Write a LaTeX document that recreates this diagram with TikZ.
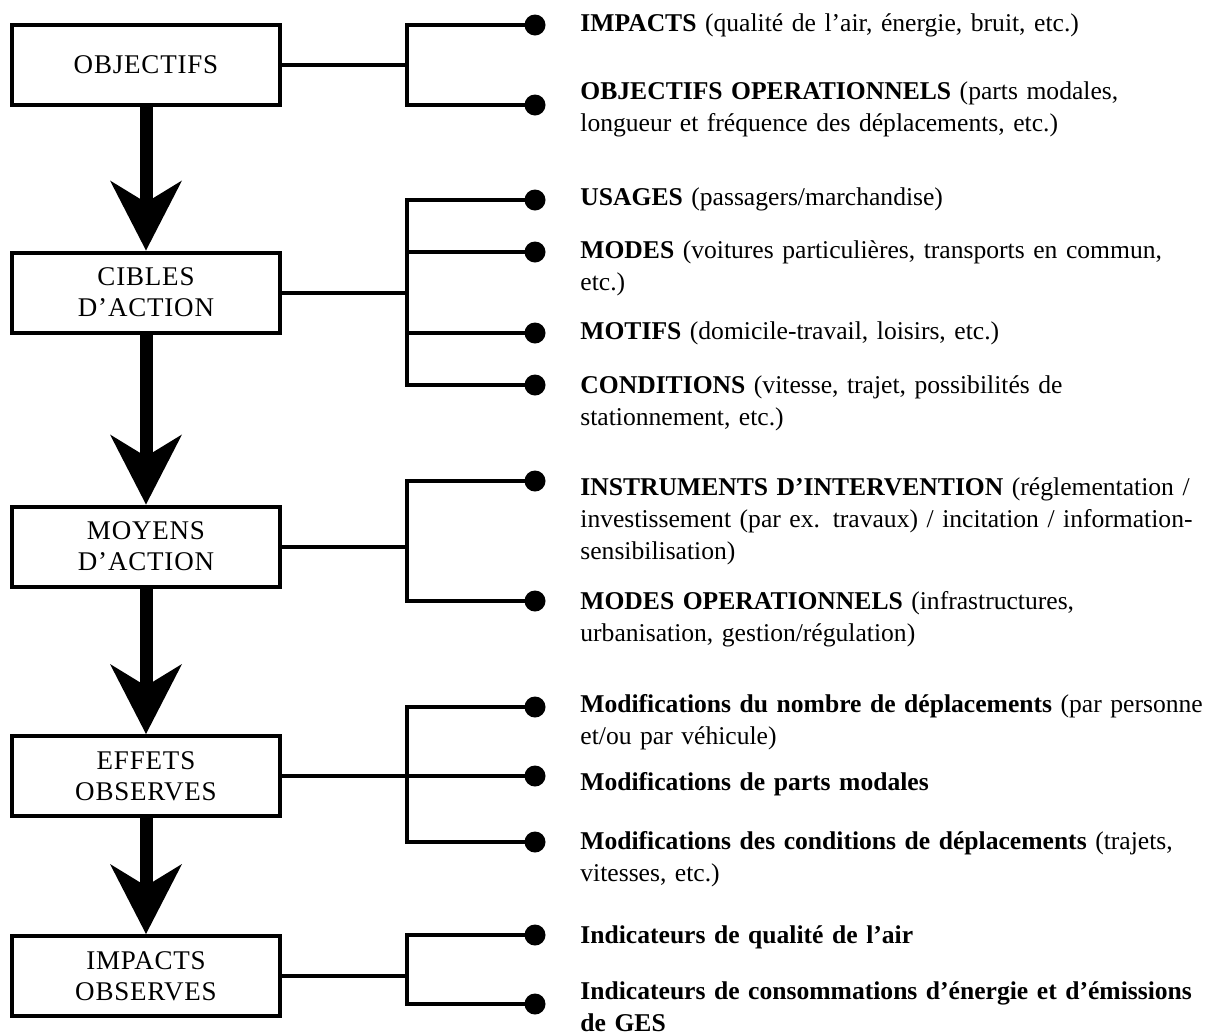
\documentclass[tikz,border=0pt]{standalone}
\usepackage{fontspec}
\setmainfont{Liberation Serif}
\usetikzlibrary{arrows.meta,positioning}

\begin{document}
\begin{tikzpicture}[
        x=0.5pt, y=-0.5pt,
        font=\fontsize{12.8pt}{16pt}\selectfont,
        stage/.style={draw=black, line width=2pt, fill=white, align=center, minimum width=134pt, minimum height=40pt, inner sep=2pt, font=\fontsize{13.5pt}{15.5pt}\selectfont\addfontfeature{LetterSpace=3}},
        dot/.style={circle, fill=black, minimum size=10.5pt, inner sep=0pt},
        item/.style={anchor=base west, text width=330pt, align=left, inner sep=0pt},
        branch/.style={draw=black, line width=2pt},
        flow/.style={draw=black, line width=6.5pt, -{Stealth[length=35pt,width=36pt,inset=11pt,line width=0pt]}}
    ]
        \useasboundingbox (0,0) rectangle (1206,1034);

        % left column
        \node[stage] (obj) at (146,64.5) {OBJECTIFS};
        \node[stage] (cib) at (146,292.5) {CIBLES\\D’ACTION};
        \node[stage] (moy) at (146,546.5) {MOYENS\\D’ACTION};
        \node[stage] (eff) at (146,776) {EFFETS\\OBSERVES};
        \node[stage] (imp) at (146,976) {IMPACTS\\OBSERVES};

        \draw[flow] (obj) -- (cib);
        \draw[flow] (cib) -- (moy);
        \draw[flow] (moy) -- (eff);
        \draw[flow] (eff) -- (imp);

        % junctions
        \coordinate (j1) at (407,64.5);
        \coordinate (j2) at (407,292.5);
        \coordinate (j3) at (407,546.5);
        \coordinate (j4) at (407,776);
        \coordinate (j5) at (407,976);

        % dots
        \node[dot] (d11) at (535,25) {};
        \node[dot] (d12) at (535,105) {};
        \node[dot] (d21) at (535,200) {};
        \node[dot] (d22) at (535,252) {};
        \node[dot] (d23) at (535,333) {};
        \node[dot] (d24) at (535,385) {};
        \node[dot] (d31) at (535,481) {};
        \node[dot] (d32) at (535,601) {};
        \node[dot] (d41) at (535,707) {};
        \node[dot] (d42) at (535,776) {};
        \node[dot] (d43) at (535,842) {};
        \node[dot] (d51) at (535,935) {};
        \node[dot] (d52) at (535,1004) {};

        % brackets
        \draw[branch] (obj.east) -- (j1);
        \draw[branch] (d11.center) -| (j1 |- d12) -- (d12.center);
        \draw[branch] (cib.east) -- (j2);
        \draw[branch] (d21.center) -| (j2 |- d24) -- (d24.center);
        \draw[branch] (j2 |- d22) -- (d22.center);
        \draw[branch] (j2 |- d23) -- (d23.center);
        \draw[branch] (moy.east) -- (j3);
        \draw[branch] (d31.center) -| (j3 |- d32) -- (d32.center);
        \draw[branch] (eff.east) -- (d42.center);
        \draw[branch] (d41.center) -| (j4 |- d43) -- (d43.center);
        \draw[branch] (imp.east) -- (j5);
        \draw[branch] (d51.center) -| (j5 |- d52) -- (d52.center);

        % texts
        \node[item] (l11) at (580,31.5) {\textbf{IMPACTS} (qualité de l’air, énergie, bruit, etc.)};
        \node[item] (l12) at (580,99.5) {\textbf{OBJECTIFS OPERATIONNELS} (parts modales,\\longueur et fréquence des déplacements, etc.)};
        \node[item] (l21) at (580,205.5) {\textbf{USAGES} (passagers/marchandise)};
        \node[item] (l22) at (580,258.5) {\textbf{MODES} (voitures particulières, transports en commun,\\etc.)};
        \node[item] (l23) at (580,339.5) {\textbf{MOTIFS} (domicile-travail, loisirs, etc.)};
        \node[item] (l24) at (580,393.5) {\textbf{CONDITIONS} (vitesse, trajet, possibilités de\\stationnement, etc.)};
        \node[item] (l31) at (580,495.5) {\textbf{INSTRUMENTS D’INTERVENTION} (réglementation /\\investissement (par ex. travaux) / incitation / information-\\sensibilisation)};
        \node[item] (l32) at (580,609.5) {\textbf{MODES OPERATIONNELS} (infrastructures,\\urbanisation, gestion/régulation)};
        \node[item] (l41) at (580,712.5) {\textbf{Modifications du nombre de déplacements} (par personne\\et/ou par véhicule)};
        \node[item] (l42) at (580,790) {\textbf{Modifications de parts modales}};
        \node[item] (l43) at (580,849.5) {\textbf{Modifications des conditions de déplacements} (trajets,\\vitesses, etc.)};
        \node[item] (l51) at (580,943) {\textbf{Indicateurs de qualité de l’air}};
        \node[item] (l52) at (580,999) {\textbf{Indicateurs de consommations d’énergie et d’émissions\\de GES}};
    \end{tikzpicture}
\end{document}
